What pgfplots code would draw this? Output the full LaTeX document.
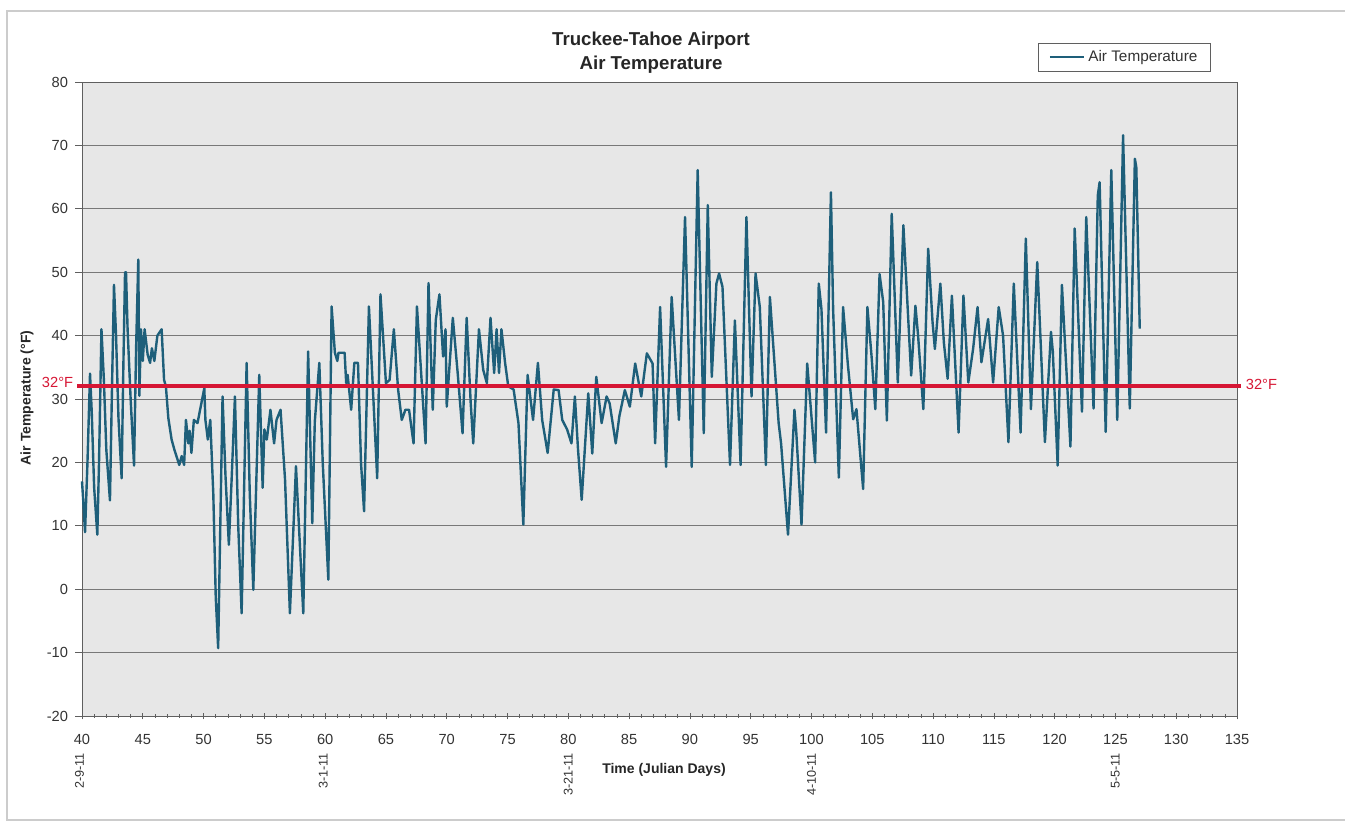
\documentclass[border=0pt]{standalone}
\usepackage{fontspec}
\setmainfont{Liberation Sans}
\usepackage{pgfplots}
\pgfplotsset{compat=1.18}
\definecolor{tealline}{RGB}{30,95,122}
\definecolor{refred}{RGB}{214,22,52}
\definecolor{plotbg}{RGB}{231,231,231}
\definecolor{axisgray}{RGB}{95,95,95}
\definecolor{gridgray}{RGB}{120,120,120}
\begin{document}
\begin{tikzpicture}
\path[use as bounding box] (0,0) rectangle (1008.75pt,616.5pt);
\draw[black!20, line width=0.8pt] (1008.75pt,608.25pt) -- (5.25pt,608.25pt) -- (5.25pt,1.5pt) -- (1008.75pt,1.5pt);
\begin{axis}[
  at={(61.5pt,79.5pt)}, anchor=south west,
  scale only axis, width=866.25pt, height=475.5pt,
  xmin=40, xmax=135, ymin=-20, ymax=80,
  xtick={40,45,...,135}, ytick={-20,-10,...,80},
  minor x tick num=4,
  ymajorgrids,
  major grid style={gridgray, line width=0.6pt},
  axis background/.style={fill=plotbg},
  axis line style={axisgray, line width=0.7pt},
  tick style={axisgray, line width=0.5pt},
  major tick length=5pt, minor tick length=3pt,
  xtick align=center, ytick align=outside,
  tick pos=left,
  ticklabel style={font=\fontsize{11}{13}\selectfont, text=black!80},
  yticklabel style={xshift=-2pt},
  xticklabel style={yshift=-8pt},
  /pgf/number format/assume math mode=true,
  clip=false,
  legend style={at={(0.9775,1.0615)}, anchor=north east, draw=axisgray, fill=white,
    font=\fontsize{11.5}{13.5}\selectfont, inner xsep=8pt, inner ysep=3.5pt, text=black!80},
  legend image code/.code={\draw[#1] (0pt,0pt) -- (26pt,0pt);},
]
\addplot[tealline, line width=1.8pt, line join=round] coordinates {
(40.0,17) (40.1,14) (40.25,9) (40.45,20) (40.66,34) (40.8,28) (41.0,16) (41.26,8.6)
(41.4,20) (41.6,41) (41.8,33) (42.0,22) (42.3,14) (42.45,30) (42.63,48) (42.8,40)
(43.0,27) (43.26,17.5) (43.4,35) (43.54,50) (43.62,50) (43.75,41) (44.0,30) (44.28,19.5)
(44.45,38) (44.63,52) (44.72,30.5) (44.85,41) (45.0,36) (45.15,41) (45.4,37) (45.6,35.7)
(45.75,38) (45.95,36) (46.2,40) (46.55,41) (46.75,33) (46.9,32) (47.1,27) (47.37,23.6)
(47.6,22) (48.0,19.6) (48.2,21) (48.4,19.6) (48.55,26.7) (48.75,23) (48.85,25) (49.0,21.5)
(49.2,26.7) (49.5,26.2) (50.06,31.7) (50.15,26.7) (50.35,23.6) (50.55,26.7) (50.8,15) (51.0,-1.2)
(51.2,-9.3) (51.56,30.4) (51.8,18) (52.08,7) (52.3,17) (52.58,30.4) (52.85,10) (53.13,-3.8)
(53.54,35.7) (53.8,15) (54.09,-0.1) (54.58,33.8) (54.86,16) (55.0,25.2) (55.2,23.6) (55.5,28.3)
(55.8,23) (56.0,26.7) (56.33,28.3) (56.7,17.3) (57.1,-3.8) (57.6,19.4) (58.2,-3.8) (58.6,37.5)
(58.94,10.4) (59.15,26.5) (59.52,35.7) (59.8,20) (60.26,1.5) (60.53,44.6) (60.8,37.3) (61.0,36)
(61.1,37.3) (61.6,37.3) (61.73,32.5) (61.85,33.8) (62.14,28.3) (62.4,35.7) (62.7,35.7) (62.95,19.9)
(63.2,12.3) (63.6,44.6) (64.28,17.5) (64.55,46.5) (65.0,32.5) (65.3,33) (65.65,41) (66.0,31.5)
(66.3,26.7) (66.6,28.3) (66.9,28.3) (67.27,23) (67.55,44.6) (68.26,23) (68.5,48.3) (68.85,28.3)
(69.1,42.5) (69.4,46.5) (69.7,36.7) (69.9,41) (70.0,28.8) (70.5,42.8) (70.9,34.1) (71.3,24.6)
(71.64,42.8) (71.97,29.4) (72.18,23) (72.65,41) (73.0,34.6) (73.3,32.5) (73.6,42.8) (73.9,34.1)
(74.1,41) (74.3,34.1) (74.5,41) (74.8,35.7) (75.06,32) (75.5,31.5) (75.9,26.2) (76.3,10.2)
(76.65,33.8) (77.1,26.7) (77.5,35.7) (77.85,26.7) (78.3,21.5) (78.8,31.5) (79.2,31.4) (79.5,26.7)
(79.9,25.2) (80.26,23) (80.54,30.4) (80.8,22) (81.1,14.1) (81.64,30.9) (81.97,21.4) (82.3,33.5)
(82.74,26.2) (83.15,30.4) (83.4,29.3) (83.9,23) (84.2,27.3) (84.65,31.4) (85.06,28.8) (85.5,35.6)
(86.0,30.4) (86.46,37.2) (86.93,35.6) (87.14,23) (87.55,44.5) (88.04,19.3) (88.5,46.1) (89.1,26.7)
(89.6,58.7) (90.15,19.3) (90.64,66.1) (91.14,24.6) (91.47,60.6) (91.8,33.5) (92.18,48.2) (92.4,49.8)
(92.68,47.7) (93.3,19.6) (93.7,42.4) (94.17,19.6) (94.65,58.7) (95.07,30.4) (95.4,49.8) (95.75,44.5)
(96.25,19.6) (96.58,46.1) (97.3,26.2) (97.5,23) (98.07,8.6) (98.6,28.3) (98.74,25.1) (99.18,10.2)
(99.65,35.6) (100.3,20) (100.6,48.2) (100.82,44.2) (101.2,24.7) (101.6,62.6) (101.78,44.2) (102.25,17.6)
(102.6,44.5) (103.0,35.3) (103.43,26.8) (103.7,28.4) (104.25,15.8) (104.6,44.5) (104.94,36.8) (105.25,28.4)
(105.6,49.7) (105.9,45.3) (106.2,26.6) (106.6,59.2) (107.1,32.6) (107.56,57.4) (108.2,33.7) (108.55,44.7)
(108.77,40) (109.2,28.4) (109.6,53.7) (109.96,42.1) (110.15,37.9) (110.6,48.2) (110.89,38.9) (111.2,33.2)
(111.55,46.3) (112.1,24.7) (112.5,46.3) (112.9,32.6) (113.3,38) (113.66,44.5) (113.98,35.8) (114.53,42.6)
(114.94,32.6) (115.4,44.5) (115.76,40) (116.2,23.2) (116.64,48.2) (117.2,24.7) (117.63,55.3) (118.05,28.4)
(118.57,51.6) (119.2,23.2) (119.7,40.6) (119.85,37.5) (120.25,19.5) (120.6,48) (121.3,22.5) (121.65,56.9)
(122.25,28) (122.6,58.7) (123.2,28.5) (123.55,62.1) (123.7,64.2) (124.2,24.8) (124.66,66.1) (125.15,26.7)
(125.63,71.6) (126.18,28.5) (126.6,67.9) (126.72,66.5) (127.0,41.1)
};
\addlegendentry{Air Temperature}
\addplot[refred, line width=3pt, forget plot] coordinates {(39.6,32) (135.3,32)};
\node[refred, anchor=east, font=\fontsize{11}{13}\selectfont, inner sep=1pt] at (axis cs:39.4,32.6) {32°F};
\node[refred, anchor=west, font=\fontsize{11}{13}\selectfont, inner sep=1pt] at (axis cs:135.6,32.3) {32°F};
\node[rotate=90, anchor=east, font=\fontsize{9.5}{10}\selectfont, text=black!80, inner sep=1pt] at (axis cs:39.8,-25.6) {2-9-11};
\node[rotate=90, anchor=east, font=\fontsize{9.5}{10}\selectfont, text=black!80, inner sep=1pt] at (axis cs:59.85,-25.6) {3-1-11};
\node[rotate=90, anchor=east, font=\fontsize{9.5}{10}\selectfont, text=black!80, inner sep=1pt] at (axis cs:80,-25.6) {3-21-11};
\node[rotate=90, anchor=east, font=\fontsize{9.5}{10}\selectfont, text=black!80, inner sep=1pt] at (axis cs:100,-25.6) {4-10-11};
\node[rotate=90, anchor=east, font=\fontsize{9.5}{10}\selectfont, text=black!80, inner sep=1pt] at (axis cs:125,-25.6) {5-5-11};
\end{axis}
\node[align=center, font=\fontsize{14}{18}\selectfont\bfseries, text=black!85] at (488.25pt,577pt) {Truckee-Tahoe Airport\\Air Temperature};
\node[rotate=90, font=\fontsize{10.5}{12}\selectfont\bfseries, text=black!85] at (20.25pt,318pt) {Air Temperature (°F)};
\node[font=\fontsize{10.5}{12}\selectfont\bfseries, text=black!85] at (498pt,39pt) {Time (Julian Days)};
\end{tikzpicture}
\end{document}
